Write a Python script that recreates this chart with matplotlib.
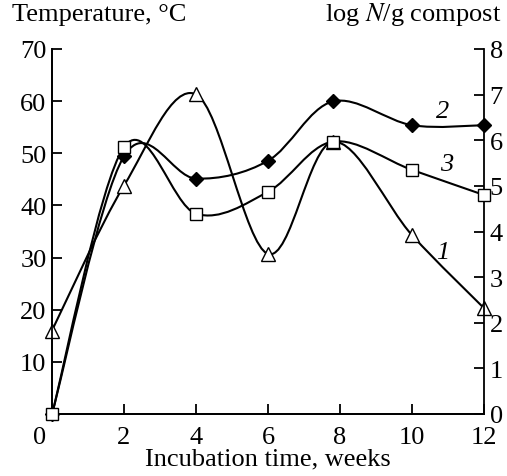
import numpy as np
import matplotlib
matplotlib.use("Agg")
import matplotlib.pyplot as plt
from matplotlib.path import Path
from matplotlib.patches import PathPatch
import matplotlib.transforms as mtransforms

plt.rcParams['font.family'] = ['Liberation Serif', 'DejaVu Serif']
plt.rcParams['mathtext.fontset'] = 'stix'

# weeks of incubation
weeks = [0, 2, 4, 6, 7.8, 10, 12]
# curve 1 - temperature, C (left axis)
temperature = [16.0, 43.8, 61.3, 30.7, 52.2, 34.3, 20.3]
# curve 2 and 3 - log N/g compost (right axis)
log_n_2 = [0.0, 5.65, 5.16, 5.55, 6.85, 6.33, 6.33]
log_n_3 = [0.0, 5.85, 4.39, 4.87, 5.97, 5.35, 4.80]

x_ticks = [0, 2, 4, 6, 8, 10, 12]
left_ticks = [10, 20, 30, 40, 50, 60, 70]
right_ticks = [0, 1, 2, 3, 4, 5, 6, 7, 8]

FS = 19


def smooth_path(x, y):
    # Catmull-Rom spline turned into cubic bezier segments
    p = np.column_stack([x, y]).astype(float)
    p_ext = np.vstack([p[0], p, p[-1]])
    verts = [p[0]]
    codes = [Path.MOVETO]
    for i in range(len(p) - 1):
        a, b, c, d = p_ext[i], p_ext[i + 1], p_ext[i + 2], p_ext[i + 3]
        verts += [b + (c - a) / 6, c - (d - b) / 6, c]
        codes += [Path.CURVE4] * 3
    return Path(verts, codes)


fig = plt.figure(figsize=(5.07, 4.77), dpi=100)
ax = fig.add_axes([52 / 507, 1 - 415 / 477, 432 / 507, 365 / 477])
ax2 = ax.twinx()

lw = 1.5
ax.add_patch(PathPatch(smooth_path(weeks, temperature), fill=False, lw=lw, ec='black', zorder=2))
ax2.add_patch(PathPatch(smooth_path(weeks, log_n_2), fill=False, lw=lw, ec='black', zorder=2))
ax2.add_patch(PathPatch(smooth_path(weeks, log_n_3), fill=False, lw=lw, ec='black', zorder=2))

ax2.plot(weeks, log_n_2, 'D', ms=7.5, mfc='black', mec='black', clip_on=False, zorder=3)
ax2.plot(weeks, log_n_3, 's', ms=8.5, mfc='white', mec='black', mew=1.0, clip_on=False, zorder=4)
ax.plot(weeks, temperature, '^', ms=9.5, mfc='white', mec='black', mew=1.0, clip_on=False, zorder=3)

ax.set_xlim(0, 12)
ax.set_ylim(0, 70)
ax2.set_ylim(0, 8)

ax.set_xticks(x_ticks)
ax.set_yticks(left_ticks)
ax2.set_yticks(right_ticks)

for a in (ax, ax2):
    a.spines['top'].set_visible(False)
    for s in a.spines.values():
        s.set_linewidth(1.3)
ax.spines['right'].set_visible(False)

ax.tick_params(axis='both', direction='in', length=7, width=1.3, labelsize=FS, pad=4)
ax.tick_params(axis='x', pad=9)
ax2.tick_params(axis='y', direction='in', length=7, width=1.3, labelsize=FS, pad=4)

# the "0" week label sits left of the corner
fig.canvas.draw()
lab0 = ax.get_xticklabels()[0]
lab0.set_transform(lab0.get_transform() + mtransforms.ScaledTranslation(-12 / 100, 0, fig.dpi_scale_trans))

ax.set_xlabel('Incubation time, weeks', fontsize=FS, labelpad=-1)

fig.text(12 / 507, 1 - 21 / 477, 'Temperature, °C', fontsize=FS, ha='left', va='baseline')
fig.text(501 / 507, 1 - 21 / 477, 'log $N$/g compost', fontsize=FS, ha='right', va='baseline')

ax.text(10.86, 58.1, '2', fontsize=FS, style='italic', ha='center', va='center')
ax.text(10.97, 47.9, '3', fontsize=FS, style='italic', ha='center', va='center')
ax.text(10.86, 31.1, '1', fontsize=FS, style='italic', ha='center', va='center')

fig.savefig('out.png', dpi=100)
